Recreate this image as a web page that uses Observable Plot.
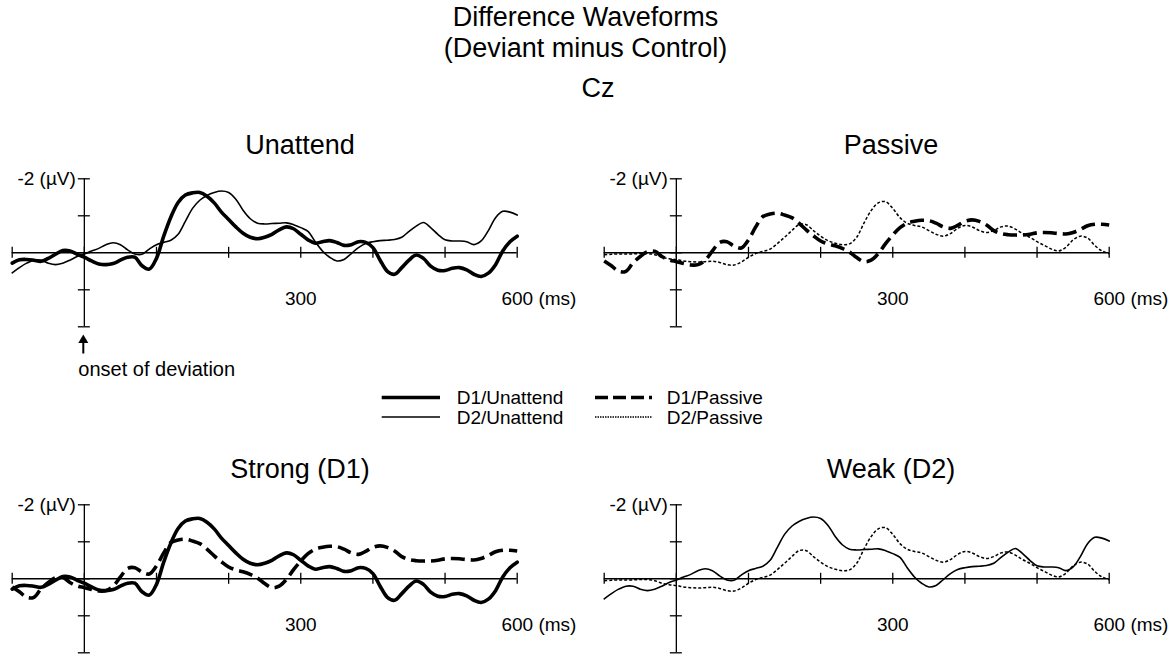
<!DOCTYPE html>
<html><head><meta charset="utf-8">
<script src="https://cdn.jsdelivr.net/npm/d3@7"></script>
<script src="https://cdn.jsdelivr.net/npm/@observablehq/plot@0.6"></script>
<style>
body{margin:0;background:#fff;}
#root{position:relative;width:1173px;height:654px;overflow:hidden;background:#fff;font-family:"Liberation Sans",Arial,Helvetica,sans-serif;color:#000;}
.t{position:absolute;white-space:nowrap;line-height:1;}
.panel{position:absolute;}
.panel svg{max-width:none !important;display:block;}
</style></head><body><div id="root"></div>
<script>
// ---------- data ----------
const timesMs = [-100,-90,-80,-70,-60,-50,-40,-30,-20,-10,
  0,10,20,30,40,50,60,70,80,90,
  100,110,120,130,140,150,160,170,180,190,
  200,210,220,230,240,250,260,270,280,290,
  300,310,320,330,340,350,360,370,380,390,
  400,410,420,430,440,450,460,470,480,490,
  500,510,520,530,540,550,560,570,580,590,600];

const d1Unattend = [0.28,0.19,0.18,0.2,0.23,0.15,0.04,-0.06,-0.05,0.04,
  0.12,0.22,0.3,0.32,0.29,0.2,0.12,0.12,0.35,0.44,
  0.15,-0.45,-0.97,-1.36,-1.56,-1.62,-1.63,-1.53,-1.35,-1.1,
  -0.9,-0.7,-0.53,-0.42,-0.38,-0.42,-0.5,-0.62,-0.7,-0.65,
  -0.5,-0.35,-0.26,-0.3,-0.33,-0.28,-0.2,-0.22,-0.3,-0.28,
  -0.14,0.2,0.5,0.58,0.4,0.2,0.06,0.15,0.36,0.47,
  0.48,0.42,0.4,0.46,0.58,0.64,0.55,0.32,-0.05,-0.3,-0.45];

const d2Unattend = [0.54,0.4,0.28,0.2,0.2,0.28,0.32,0.28,0.2,0.1,
  0.03,-0.05,-0.12,-0.22,-0.27,-0.22,-0.08,0.03,0.04,-0.1,
  -0.22,-0.28,-0.34,-0.5,-0.85,-1.2,-1.42,-1.55,-1.63,-1.67,
  -1.63,-1.45,-1.15,-0.92,-0.8,-0.78,-0.79,-0.8,-0.81,-0.76,
  -0.68,-0.58,-0.3,-0.05,0.12,0.22,0.18,0.02,-0.14,-0.25,
  -0.3,-0.33,-0.34,-0.36,-0.42,-0.58,-0.72,-0.82,-0.68,-0.5,
  -0.35,-0.32,-0.32,-0.3,-0.22,-0.32,-0.6,-0.95,-1.12,-1.1,-1.02];

const d1Passive = [0.22,0.35,0.5,0.5,0.27,0.1,-0.03,-0.04,0.1,0.19,
  0.24,0.29,0.33,0.32,0.2,-0.05,-0.28,-0.3,-0.18,-0.13,
  -0.35,-0.7,-0.98,-1.05,-1.07,-1.02,-0.95,-0.8,-0.62,-0.46,
  -0.32,-0.24,-0.19,-0.12,-0.02,0.13,0.24,0.2,0.02,-0.25,
  -0.48,-0.68,-0.8,-0.85,-0.88,-0.87,-0.8,-0.7,-0.66,-0.74,
  -0.85,-0.89,-0.85,-0.75,-0.6,-0.52,-0.49,-0.48,-0.48,-0.5,
  -0.54,-0.55,-0.54,-0.52,-0.51,-0.55,-0.63,-0.73,-0.77,-0.77,-0.75];

const d2Passive = [0.05,0.04,0.03,0.03,0.03,0.02,0.02,0.05,0.12,0.16,
  0.18,0.22,0.24,0.25,0.24,0.23,0.26,0.32,0.33,0.25,
  0.12,0.02,-0.04,-0.1,-0.25,-0.42,-0.6,-0.76,-0.76,-0.6,
  -0.45,-0.33,-0.26,-0.22,-0.24,-0.42,-0.8,-1.14,-1.35,-1.38,
  -1.2,-0.95,-0.8,-0.74,-0.7,-0.6,-0.5,-0.45,-0.52,-0.66,
  -0.74,-0.7,-0.6,-0.55,-0.6,-0.7,-0.72,-0.64,-0.52,-0.42,
  -0.3,-0.2,-0.1,-0.05,-0.15,-0.35,-0.45,-0.4,-0.2,-0.05,0.02];

const seriesNames = ["D1/Unattend","D2/Unattend","D1/Passive","D2/Passive"];
const panelTitles = ["Unattend","Passive","Strong (D1)","Weak (D2)"];
const panelSeries = [["D1/Unattend","D2/Unattend"],["D1/Passive","D2/Passive"],["D1/Passive","D1/Unattend"],["D2/Passive","D2/Unattend"]];
const xTicks = [-100,0,100,200,300,400,500,600];
const yTicks = [-2,-1,0,1,2];
const xMidLabels = [{value:300,label:"300"}];
const xEndLabels = [{value:600,label:"600 (ms)"}];
const yTopLabels = [{value:-2,label:"-2 (\u00b5V)"}];
const titleLines = ["Difference Waveforms","(Deviant minus Control)","Cz"];

const valuesByName = {"D1/Unattend":d1Unattend,"D2/Unattend":d2Unattend,"D1/Passive":d1Passive,"D2/Passive":d2Passive};

// ---------- styles ----------
const seriesStyle = {
  "D1/Unattend":{strokeWidth:3.6, dash:null},
  "D2/Unattend":{strokeWidth:1.6, dash:null},
  "D1/Passive":{strokeWidth:3.6, dash:"14,6"},
  "D2/Passive":{strokeWidth:1.5, dash:"3,2"}
};
const FONT = "'Liberation Sans', Arial, Helvetica, sans-serif";
const root = document.getElementById("root");

function addText(txt, x, baseline, size, anchor, lh) {
  const d = document.createElement("div");
  d.className = "t";
  d.textContent = txt;
  const lineH = lh || 1;
  d.style.fontSize = size + "px";
  d.style.lineHeight = lineH;
  const off = ((lineH - 1.117) / 2 + 0.905) * size;
  d.style.top = (baseline - off) + "px";
  d.style.left = x + "px";
  if (anchor === "middle") d.style.transform = "translateX(-50%)";
  root.appendChild(d);
  return d;
}

// main title
addText(titleLines[0], 585.5, 26.7, 27, "middle");
addText(titleLines[1], 585.5, 58.3, 27, "middle");
addText(titleLines[2], 598, 98.3, 27, "middle");

// panels
const panelPos = [{left:0, top:160},{left:592, top:160},{left:0, top:486},{left:592, top:486}];
const titleCenters = [300, 891, 300, 891];
const titleBaselines = [155, 155, 479, 479];

panelTitles.forEach((title, k) => {
  const names = panelSeries[k];
  const lineMarks = names.map(name => {
    const rows = timesMs.map((t, i) => ({t, v: valuesByName[name][i]}));
    const st = seriesStyle[name];
    const opts = {x:"t", y:"v", curve:"catmull-rom", stroke:"black", strokeWidth: st.strokeWidth, strokeLinecap: st.dash ? "butt" : "round"};
    if (st.dash) opts.strokeDasharray = st.dash;
    return Plot.line(rows, opts);
  });
  const chart = Plot.plot({
    width: 592, height: 220,
    marginLeft: 11.7, marginRight: 75.3, marginTop: 18.3, marginBottom: 53.7,
    x: {domain: [xTicks[0], xTicks[xTicks.length-1]], axis: null},
    y: {domain: [yTicks[0], yTicks[yTicks.length-1]], reverse: true, axis: null},
    style: {fontFamily: FONT, fontSize: "19px", background: "transparent", overflow: "visible", color: "black"},
    marks: [
      Plot.ruleY([0], {x1: xTicks[0], x2: xTicks[xTicks.length-1], stroke: "black", strokeWidth: 1.4}),
      Plot.ruleX([0], {y1: yTicks[0], y2: yTicks[yTicks.length-1], stroke: "black", strokeWidth: 1.3}),
      Plot.ruleX(xTicks, {x: d => d, y1: d => 0, y2: d => 0, insetTop: 5.5, insetBottom: 5.5, stroke: "black", strokeWidth: 1.3}),
      Plot.ruleY(yTicks, {y: d => d, x1: d => 0, x2: d => 0, insetLeft: 6, insetRight: 6, stroke: "black", strokeWidth: 1.3}),
      ...lineMarks,
      Plot.text(yTopLabels, {x: d => 0, y: "value", text: "label", textAnchor: "end", dx: -8.5, fontSize: 19, fill: "black"}),
      Plot.text(xMidLabels, {x: "value", y: d => 0, text: "label", dy: 45.9, fontSize: 19, fill: "black"}),
      Plot.text(xEndLabels, {x: "value", y: d => 0, text: "label", textAnchor: "start", dx: -15.8, dy: 45.9, fontSize: 19, fill: "black"})
    ]
  });
  const holder = document.createElement("div");
  holder.className = "panel";
  holder.style.left = panelPos[k].left + "px";
  holder.style.top = panelPos[k].top + "px";
  holder.appendChild(chart);
  root.appendChild(holder);
  addText(title, titleCenters[k], titleBaselines[k], 27, "middle");
});

// onset arrow + legend
{
  const ns = "http://www.w3.org/2000/svg";
  const svg = document.createElementNS(ns, "svg");
  svg.setAttribute("width", 1173); svg.setAttribute("height", 654);
  svg.style.cssText = "position:absolute;left:0;top:0;pointer-events:none;";
  const ln = document.createElementNS(ns, "line");
  ln.setAttribute("x1", 83.3); ln.setAttribute("x2", 83.3); ln.setAttribute("y1", 353.5); ln.setAttribute("y2", 341);
  ln.setAttribute("stroke", "black"); ln.setAttribute("stroke-width", 2);
  svg.appendChild(ln);
  const head = document.createElementNS(ns, "path");
  head.setAttribute("d", "M78.3,343 L83.3,334.5 L88.3,343 Z");
  head.setAttribute("fill", "black");
  svg.appendChild(head);
  const legendRows = [
    {name: "D1/Unattend", x1: 381.7, x2: 440, y: 397.5, tx: 456.7, tb: 404.5},
    {name: "D2/Unattend", x1: 381.7, x2: 440, y: 417, tx: 456.7, tb: 424.2},
    {name: "D1/Passive", x1: 595, x2: 652, y: 397.5, tx: 666.7, tb: 404.5},
    {name: "D2/Passive", x1: 595, x2: 652, y: 417, tx: 666.7, tb: 424.2}
  ];
  const legendStyle = {
    "D1/Unattend": {w: 3.3, dash: null},
    "D2/Unattend": {w: 1.7, dash: null},
    "D1/Passive": {w: 3.3, dash: "13,5"},
    "D2/Passive": {w: 1.3, dash: "1.5,1"}
  };
  legendRows.forEach(r => {
    const l = document.createElementNS(ns, "line");
    l.setAttribute("x1", r.x1); l.setAttribute("x2", r.x2); l.setAttribute("y1", r.y); l.setAttribute("y2", r.y);
    l.setAttribute("stroke", "black");
    l.setAttribute("stroke-width", legendStyle[r.name].w);
    if (legendStyle[r.name].dash) l.setAttribute("stroke-dasharray", legendStyle[r.name].dash);
    svg.appendChild(l);
    addText(r.name, r.tx, r.tb, 19, "start", 0.85);
  });
  root.appendChild(svg);
  addText("onset of deviation", 78.3, 376, 20, "start");
}
</script></body></html>
